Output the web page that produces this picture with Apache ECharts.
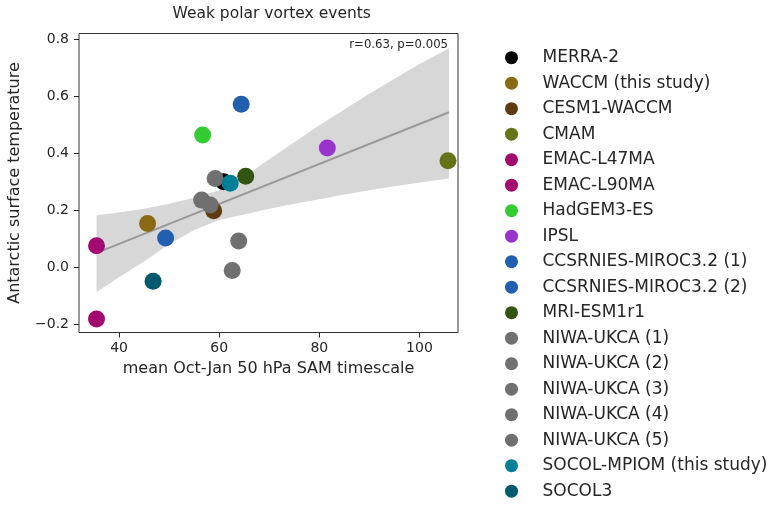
<!DOCTYPE html>
<html>
<head>
<meta charset="utf-8">
<script src="https://cdn.jsdelivr.net/npm/echarts@6/dist/echarts.min.js"></script>
<style>html,body{margin:0;padding:0;background:#fff}#c{width:771px;height:506px}</style>
</head>
<body>
<div id="c"></div>
<script>
const models = ["MERRA-2","WACCM (this study)","CESM1-WACCM","CMAM","EMAC-L47MA","EMAC-L90MA","HadGEM3-ES","IPSL","CCSRNIES-MIROC3.2 (1)","CCSRNIES-MIROC3.2 (2)","MRI-ESM1r1","NIWA-UKCA (1)","NIWA-UKCA (2)","NIWA-UKCA (3)","NIWA-UKCA (4)","NIWA-UKCA (5)","SOCOL-MPIOM (this study)","SOCOL3"];
const samTimescale = [60.9,45.7,58.9,105.7,35.5,35.5,56.7,81.6,64.4,49.3,65.3,59.2,56.5,58.2,63.9,62.6,62.2,46.8];
const surfaceTemp = [0.299,0.153,0.198,0.373,0.075,-0.182,0.463,0.4175,0.571,0.102,0.319,0.311,0.235,0.218,0.092,-0.012,0.294,-0.049];
const modelColors = ["#000000","#8b6914","#5e3c0e","#667316","#a30a70","#a30a70","#33cc33","#9933cc","#225fb0","#225fb0","#335511","#707070","#707070","#707070","#707070","#707070","#007f99","#005a6e"];
const fitX = [35.5, 105.9];
const fitY = [0.05, 0.543];
const bandX =     [35.5, 40, 45, 50, 55, 60, 65, 70, 75, 80, 85, 90, 95, 100, 105.9];
const bandLower = [-0.087, -0.035, 0.02, 0.08, 0.13, 0.165, 0.185, 0.205, 0.222, 0.238, 0.255, 0.27, 0.284, 0.297, 0.311];
const bandUpper = [0.182, 0.192, 0.205, 0.222, 0.243, 0.27, 0.318, 0.378, 0.438, 0.497, 0.553, 0.608, 0.66, 0.712, 0.767];
const xTicks = [40, 60, 80, 100];
const yTicks = [-0.2, 0, 0.2, 0.4, 0.6, 0.8];
const titleText = "Weak polar vortex events";
const statText = "r=0.63, p=0.005";

const FONT = "DejaVu Sans";
const INK = "#262626";
const chart = echarts.init(document.getElementById('c'), null, {renderer: 'canvas'});

const scatterSeries = models.map((m, i) => ({
  name: m,
  type: 'scatter',
  data: [[samTimescale[i], surfaceTemp[i]]],
  symbol: 'circle',
  symbolSize: 17,
  itemStyle: {color: modelColors[i], opacity: 1},
  emphasis: {disabled: true},
  z: 5
}));

const bandSeries = {
  type: 'custom',
  silent: true,
  z: 1,
  data: [[0]],
  renderItem: function (params, api) {
    const pts = [];
    for (let i = 0; i < bandX.length; i++) pts.push(api.coord([bandX[i], bandUpper[i]]));
    for (let i = bandX.length - 1; i >= 0; i--) pts.push(api.coord([bandX[i], bandLower[i]]));
    return {type: 'polygon', shape: {points: pts, smooth: 0}, style: {fill: '#d7d7d7', stroke: null}};
  }
};

const fitSeries = {
  type: 'line',
  silent: true,
  z: 2,
  data: fitX.map((x, i) => [x, fitY[i]]),
  showSymbol: false,
  lineStyle: {color: '#999999', width: 2},
  emphasis: {disabled: true}
};

chart.setOption({
  animation: false,
  backgroundColor: '#ffffff',
  grid: {left: 79, right: 313, top: 33.5, bottom: 173.5, show: true, borderColor: '#333333', borderWidth: 1, backgroundColor: 'transparent'},
  xAxis: {
    type: 'value', min: 32, max: 107.7,
    name: 'mean Oct-Jan 50 hPa SAM timescale', nameLocation: 'middle', nameGap: 23,
    nameTextStyle: {fontFamily: FONT, fontSize: 16, color: INK},
    axisLine: {show: false, onZero: false},
    axisTick: {show: true, inside: false, length: 5, lineStyle: {color: INK}, customValues: xTicks},
    axisLabel: {fontFamily: FONT, fontSize: 14, color: INK, margin: 9, customValues: xTicks},
    splitLine: {show: false}
  },
  yAxis: {
    type: 'value', min: -0.229, max: 0.819,
    name: 'Antarctic surface temperature', nameLocation: 'middle', nameGap: 56,
    nameTextStyle: {fontFamily: FONT, fontSize: 16, color: INK},
    axisLine: {show: false, onZero: false},
    axisTick: {show: true, inside: false, length: 5, lineStyle: {color: INK}, customValues: yTicks},
    axisLabel: {fontFamily: FONT, fontSize: 14, color: INK, margin: 10, customValues: yTicks,
      formatter: v => (v < 0 ? '\u2212' + Math.abs(v).toFixed(1) : Math.abs(v).toFixed(1))},
    splitLine: {show: false}
  },
  legend: {
    orient: 'vertical', left: 505, top: 49.2, padding: 0,
    itemWidth: 52, itemHeight: 13, itemGap: 8.5,
    icon: 'circle',
    selectedMode: false,
    data: models,
    textStyle: {fontFamily: FONT, fontSize: 17, lineHeight: 17, color: INK}
  },
  graphic: [
    {type: 'text', x: 271.7, y: 14, style: {text: titleText, font: '15.5px "DejaVu Sans"', fill: INK, textAlign: 'center', textVerticalAlign: 'middle'}},
    {type: 'text', x: 448, y: 44.5, z: 10, style: {text: statText, font: '11.7px "DejaVu Sans"', fill: INK, textAlign: 'right', textVerticalAlign: 'middle'}}
  ],
  series: [bandSeries, fitSeries].concat(scatterSeries)
});
</script>
</body>
</html>
